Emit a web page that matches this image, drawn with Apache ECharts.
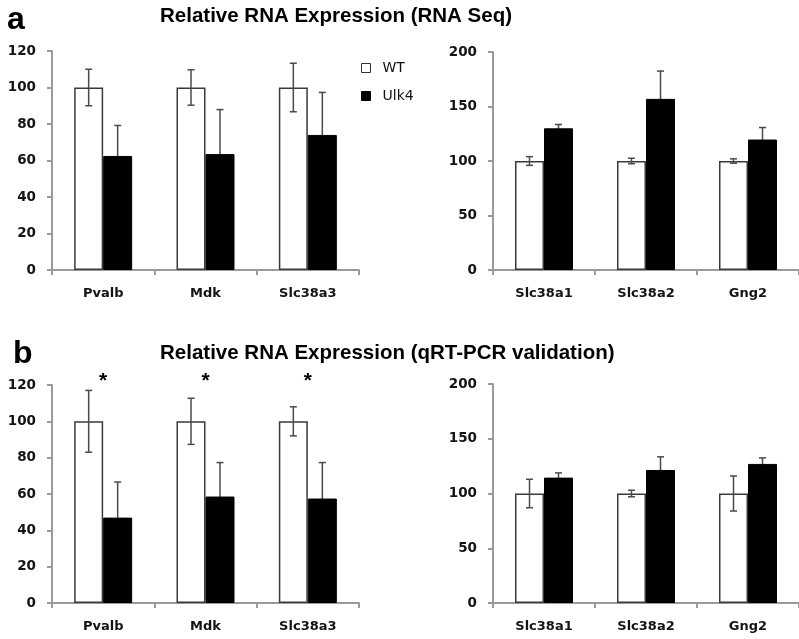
<!DOCTYPE html>
<html>
<head>
<meta charset="utf-8">
<script src="https://cdn.jsdelivr.net/npm/echarts@6/dist/echarts.min.js"></script>
<style>
html,body{margin:0;padding:0;background:#fff;}
#chart{width:799px;height:639px;}
</style>
</head>
<body>
<div id="chart"></div>
<script>
// ---- data ----
const catsLeft = ['Pvalb', 'Mdk', 'Slc38a3'];
const catsRight = ['Slc38a1', 'Slc38a2', 'Gng2'];

// (a) RNA Seq
const seqWTLeft = [100, 100, 100];
const seqWTLeftErr = [10, 9.7, 13.3];
const seqUlkLeft = [62.5, 63.5, 74];
const seqUlkLeftErr = [16.7, 24.4, 23.3];
const seqWTRight = [100, 100, 100];
const seqWTRightErr = [4, 2.5, 2];
const seqUlkRight = [130, 157, 119.7];
const seqUlkRightErr = [3.5, 25.5, 11];

// (b) qRT-PCR validation
const pcrWTLeft = [100, 100, 100];
const pcrWTLeftErr = [17, 12.7, 8];
const pcrUlkLeft = [47, 58.6, 57.5];
const pcrUlkLeftErr = [19.6, 18.7, 19.8];
const pcrWTRight = [100, 100, 100];
const pcrWTRightErr = [13, 3, 16];
const pcrUlkRight = [114.5, 121.5, 127];
const pcrUlkRightErr = [4.3, 12, 5.5];

const pcrStars = ['*', '*', '*'];
const starLevel = 120;

const leftTicks = {min: 0, max: 120, interval: 20};
const rightTicks = {min: 0, max: 200, interval: 50};

const titleA = 'Relative RNA Expression (RNA Seq)';
const titleB = 'Relative RNA Expression (qRT-PCR validation)';

// ---- styling ----
const BAR_W = 29;
const AXIS_COLOR = '#9a9a9a';
const ERR_COLOR = '#4a4a4a';
const LABEL_FONT = 'DejaVu Sans';

const grids = [
  {left: 52, top: 51, width: 307, height: 219},
  {left: 493, top: 52, width: 306, height: 218},
  {left: 52, top: 385, width: 307, height: 218},
  {left: 493, top: 384, width: 306, height: 219}
];

function xAxisFor(idx, cats) {
  return {
    type: 'category', gridIndex: idx, data: cats,
    axisLine: {show: true, lineStyle: {color: AXIS_COLOR, width: 2}},
    axisTick: {show: true, length: 5, alignWithLabel: false, lineStyle: {color: AXIS_COLOR, width: 2}},
    axisLabel: {margin: 17, color: '#141414', fontFamily: LABEL_FONT, fontWeight: 'bold', fontSize: 13}
  };
}
function yAxisFor(idx, t) {
  return {
    type: 'value', gridIndex: idx, min: t.min, max: t.max, interval: t.interval,
    splitLine: {show: false},
    axisLine: {show: true, lineStyle: {color: AXIS_COLOR, width: 2}},
    axisTick: {show: true, length: 5, lineStyle: {color: AXIS_COLOR, width: 2}},
    axisLabel: {margin: 16, color: '#141414', fontFamily: LABEL_FONT, fontWeight: 'bold', fontSize: 13.5}
  };
}

function barSeries(idx, name, values) {
  const wt = name === 'WT';
  return {
    type: 'bar', name: name, xAxisIndex: idx, yAxisIndex: idx, data: values,
    barWidth: BAR_W, barGap: '0%', z: 2,
    itemStyle: wt ? {color: '#ffffff', borderColor: '#3a3a3a', borderWidth: 1.5}
                  : {color: '#000000', borderColor: '#000000', borderWidth: 1}
  };
}

function errSeries(idx, values, errs, offset, z) {
  return {
    type: 'custom', xAxisIndex: idx, yAxisIndex: idx, z: z, silent: true,
    data: values.map((v, k) => [k, v, errs[k]]),
    encode: {x: 0, y: 1},
    renderItem: function (params, api) {
      const i = api.value(0), v = api.value(1), e = api.value(2);
      const top = api.coord([i, v + e]);
      const bot = api.coord([i, v - e]);
      const x = top[0] + offset;
      const cw = 3.5;
      const st = {stroke: ERR_COLOR, lineWidth: 1.5};
      return {
        type: 'group',
        children: [
          {type: 'line', shape: {x1: x, y1: top[1], x2: x, y2: bot[1]}, style: st},
          {type: 'line', shape: {x1: x - cw, y1: top[1], x2: x + cw, y2: top[1]}, style: st},
          {type: 'line', shape: {x1: x - cw, y1: bot[1], x2: x + cw, y2: bot[1]}, style: st}
        ]
      };
    }
  };
}

function starSeries(idx, marks) {
  return {
    type: 'custom', xAxisIndex: idx, yAxisIndex: idx, z: 5, silent: true,
    data: marks.map((m, k) => [k, starLevel]),
    encode: {x: 0, y: 1},
    renderItem: function (params, api) {
      const p = api.coord([api.value(0), api.value(1)]);
      return {
        type: 'text',
        style: {x: p[0], y: p[1] - 4, text: marks[params.dataIndex], fill: '#000',
                font: 'bold 21px "Liberation Sans"', textAlign: 'center', textVerticalAlign: 'middle'}
      };
    }
  };
}

const panels = [
  {cats: catsLeft, ticks: leftTicks, wt: seqWTLeft, wtE: seqWTLeftErr, ul: seqUlkLeft, ulE: seqUlkLeftErr},
  {cats: catsRight, ticks: rightTicks, wt: seqWTRight, wtE: seqWTRightErr, ul: seqUlkRight, ulE: seqUlkRightErr},
  {cats: catsLeft, ticks: leftTicks, wt: pcrWTLeft, wtE: pcrWTLeftErr, ul: pcrUlkLeft, ulE: pcrUlkLeftErr},
  {cats: catsRight, ticks: rightTicks, wt: pcrWTRight, wtE: pcrWTRightErr, ul: pcrUlkRight, ulE: pcrUlkRightErr}
];

const xAxes = [], yAxes = [], series = [];
panels.forEach((p, idx) => {
  xAxes.push(xAxisFor(idx, p.cats));
  yAxes.push(yAxisFor(idx, p.ticks));
  series.push(barSeries(idx, 'WT', p.wt));
  series.push(barSeries(idx, 'Ulk4', p.ul));
  series.push(errSeries(idx, p.wt, p.wtE, -BAR_W / 2, 4));
  series.push(errSeries(idx, p.ul, p.ulE, BAR_W / 2, 1));
});
series.push(starSeries(2, pcrStars));

const chart = echarts.init(document.getElementById('chart'), null, {renderer: 'canvas'});
chart.setOption({
  animation: false,
  backgroundColor: '#ffffff',
  grid: grids,
  xAxis: xAxes,
  yAxis: yAxes,
  series: series,
  legend: {
    orient: 'vertical', left: 356, top: 56, itemWidth: 9, itemHeight: 9, itemGap: 14,
    icon: 'rect',
    data: [
      {name: 'WT', itemStyle: {color: '#ffffff', borderColor: '#333', borderWidth: 1}},
      {name: 'Ulk4', itemStyle: {color: '#000000', borderColor: '#000', borderWidth: 1}}
    ],
    textStyle: {fontFamily: LABEL_FONT, fontSize: 14, color: '#111', padding: [0, 0, 0, 7]}
  },
  graphic: [
    {type: 'text', left: 7, top: 4, style: {text: 'a', font: 'bold 32px "Liberation Sans"', fill: '#000'}},
    {type: 'text', left: 13, top: 338, style: {text: 'b', font: 'bold 32px "Liberation Sans"', fill: '#000'}},
    {type: 'text', left: 160, top: 6, style: {text: titleA, font: 'bold 20.5px "Liberation Sans"', fill: '#000'}},
    {type: 'text', left: 160, top: 343, style: {text: titleB, font: 'bold 20.5px "Liberation Sans"', fill: '#000'}}
  ]
});
</script>
</body>
</html>
